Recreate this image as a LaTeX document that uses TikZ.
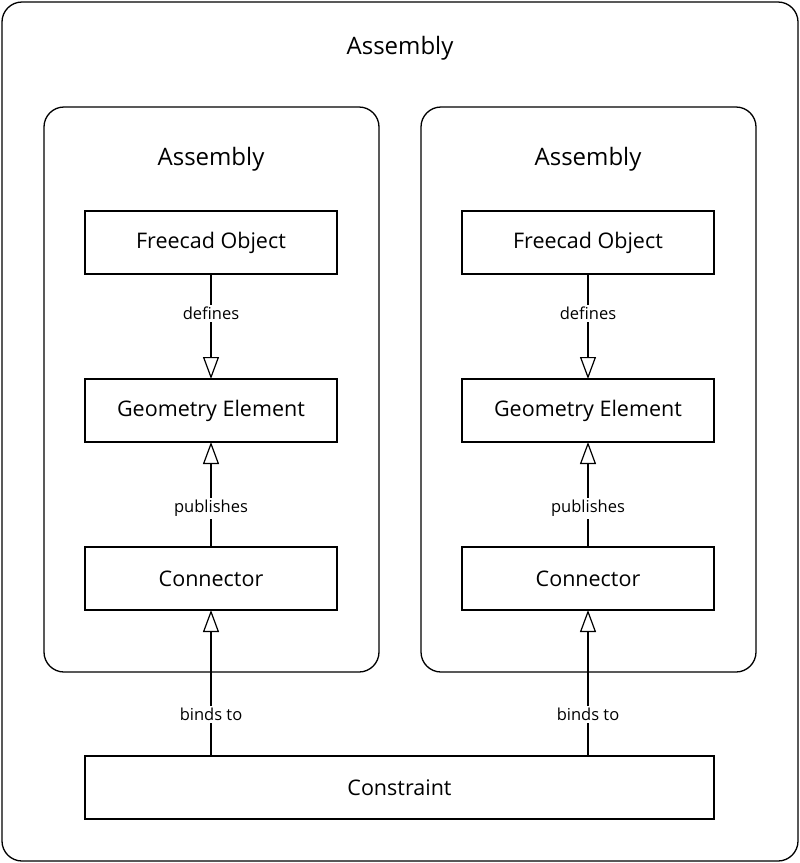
\documentclass[tikz,border=0pt]{standalone}
\usepackage{fontspec}
\setmainfont{Open Sans}
\usetikzlibrary{arrows.meta}
\begin{document}
\begin{tikzpicture}[x=1pt,y=-1pt,
  frame/.style={draw=black,line width=1.3pt,rounded corners=20pt},
  box/.style={draw=black,line width=1.2pt,fill=white},
  ttl/.style={font=\fontsize{24}{28}\selectfont,inner sep=0pt},
  txt/.style={font=\fontsize{21.5}{25}\selectfont,inner sep=0pt},
  lbl/.style={font=\fontsize{16.5}{19}\selectfont,fill=white,inner sep=2pt},
  inh/.style={line width=1.2pt,-{Triangle[open,length=22pt,width=16pt,line width=1.2pt]}}]
\useasboundingbox (0,0) rectangle (800,863);
\draw[frame,fill=white] (2,2) rectangle (798,861);
\node[ttl] (t0) at (400,48.5) {Assembly};
\draw[frame] (44,107) rectangle (379,672);
\draw[frame] (421,107) rectangle (756,672);
\node[ttl] (t1) at (211,159.5) {Assembly};
\node[ttl] (t2) at (588,159.5) {Assembly};
% left
\draw[box] (85,211) rectangle (337,274) node[txt,midway] (fo1) {Freecad Object};
\draw[box] (85,379) rectangle (337,442) node[txt,midway] (ge1) {Geometry Element};
\draw[box] (85,547) rectangle (337,610) node[txt,midway] (cn1) {Connector};
% right
\draw[box] (462,211) rectangle (714,274) node[txt,midway] (fo2) {Freecad Object};
\draw[box] (462,379) rectangle (714,442) node[txt,midway] (ge2) {Geometry Element};
\draw[box] (462,547) rectangle (714,610) node[txt,midway] (cn2) {Connector};
% constraint
\draw[box] (85,756) rectangle (714,819) node[txt,midway] (cs) {Constraint};
\coordinate (a1) at (211,274); \coordinate (b1) at (211,379);
\coordinate (c1) at (211,442); \coordinate (d1) at (211,547);
\coordinate (e1) at (211,610); \coordinate (f1) at (211,756);
\coordinate (a2) at (588,274); \coordinate (b2) at (588,379);
\coordinate (c2) at (588,442); \coordinate (d2) at (588,547);
\coordinate (e2) at (588,610); \coordinate (f2) at (588,756);
\draw[inh] (a1) -- (b1);
\draw[inh] (d1) -- (c1);
\draw[inh] (f1) -- (e1);
\draw[inh] (a2) -- (b2);
\draw[inh] (d2) -- (c2);
\draw[inh] (f2) -- (e2);
\node[lbl] (l1) at (211,313.5) {defines};
\node[lbl] (l2) at (211,508.5) {publishes};
\node[lbl] (l3) at (211,714.5) {binds to};
\node[lbl] (l4) at (588,313.5) {defines};
\node[lbl] (l5) at (588,508.5) {publishes};
\node[lbl] (l6) at (588,714.5) {binds to};
\end{tikzpicture}
\end{document}
